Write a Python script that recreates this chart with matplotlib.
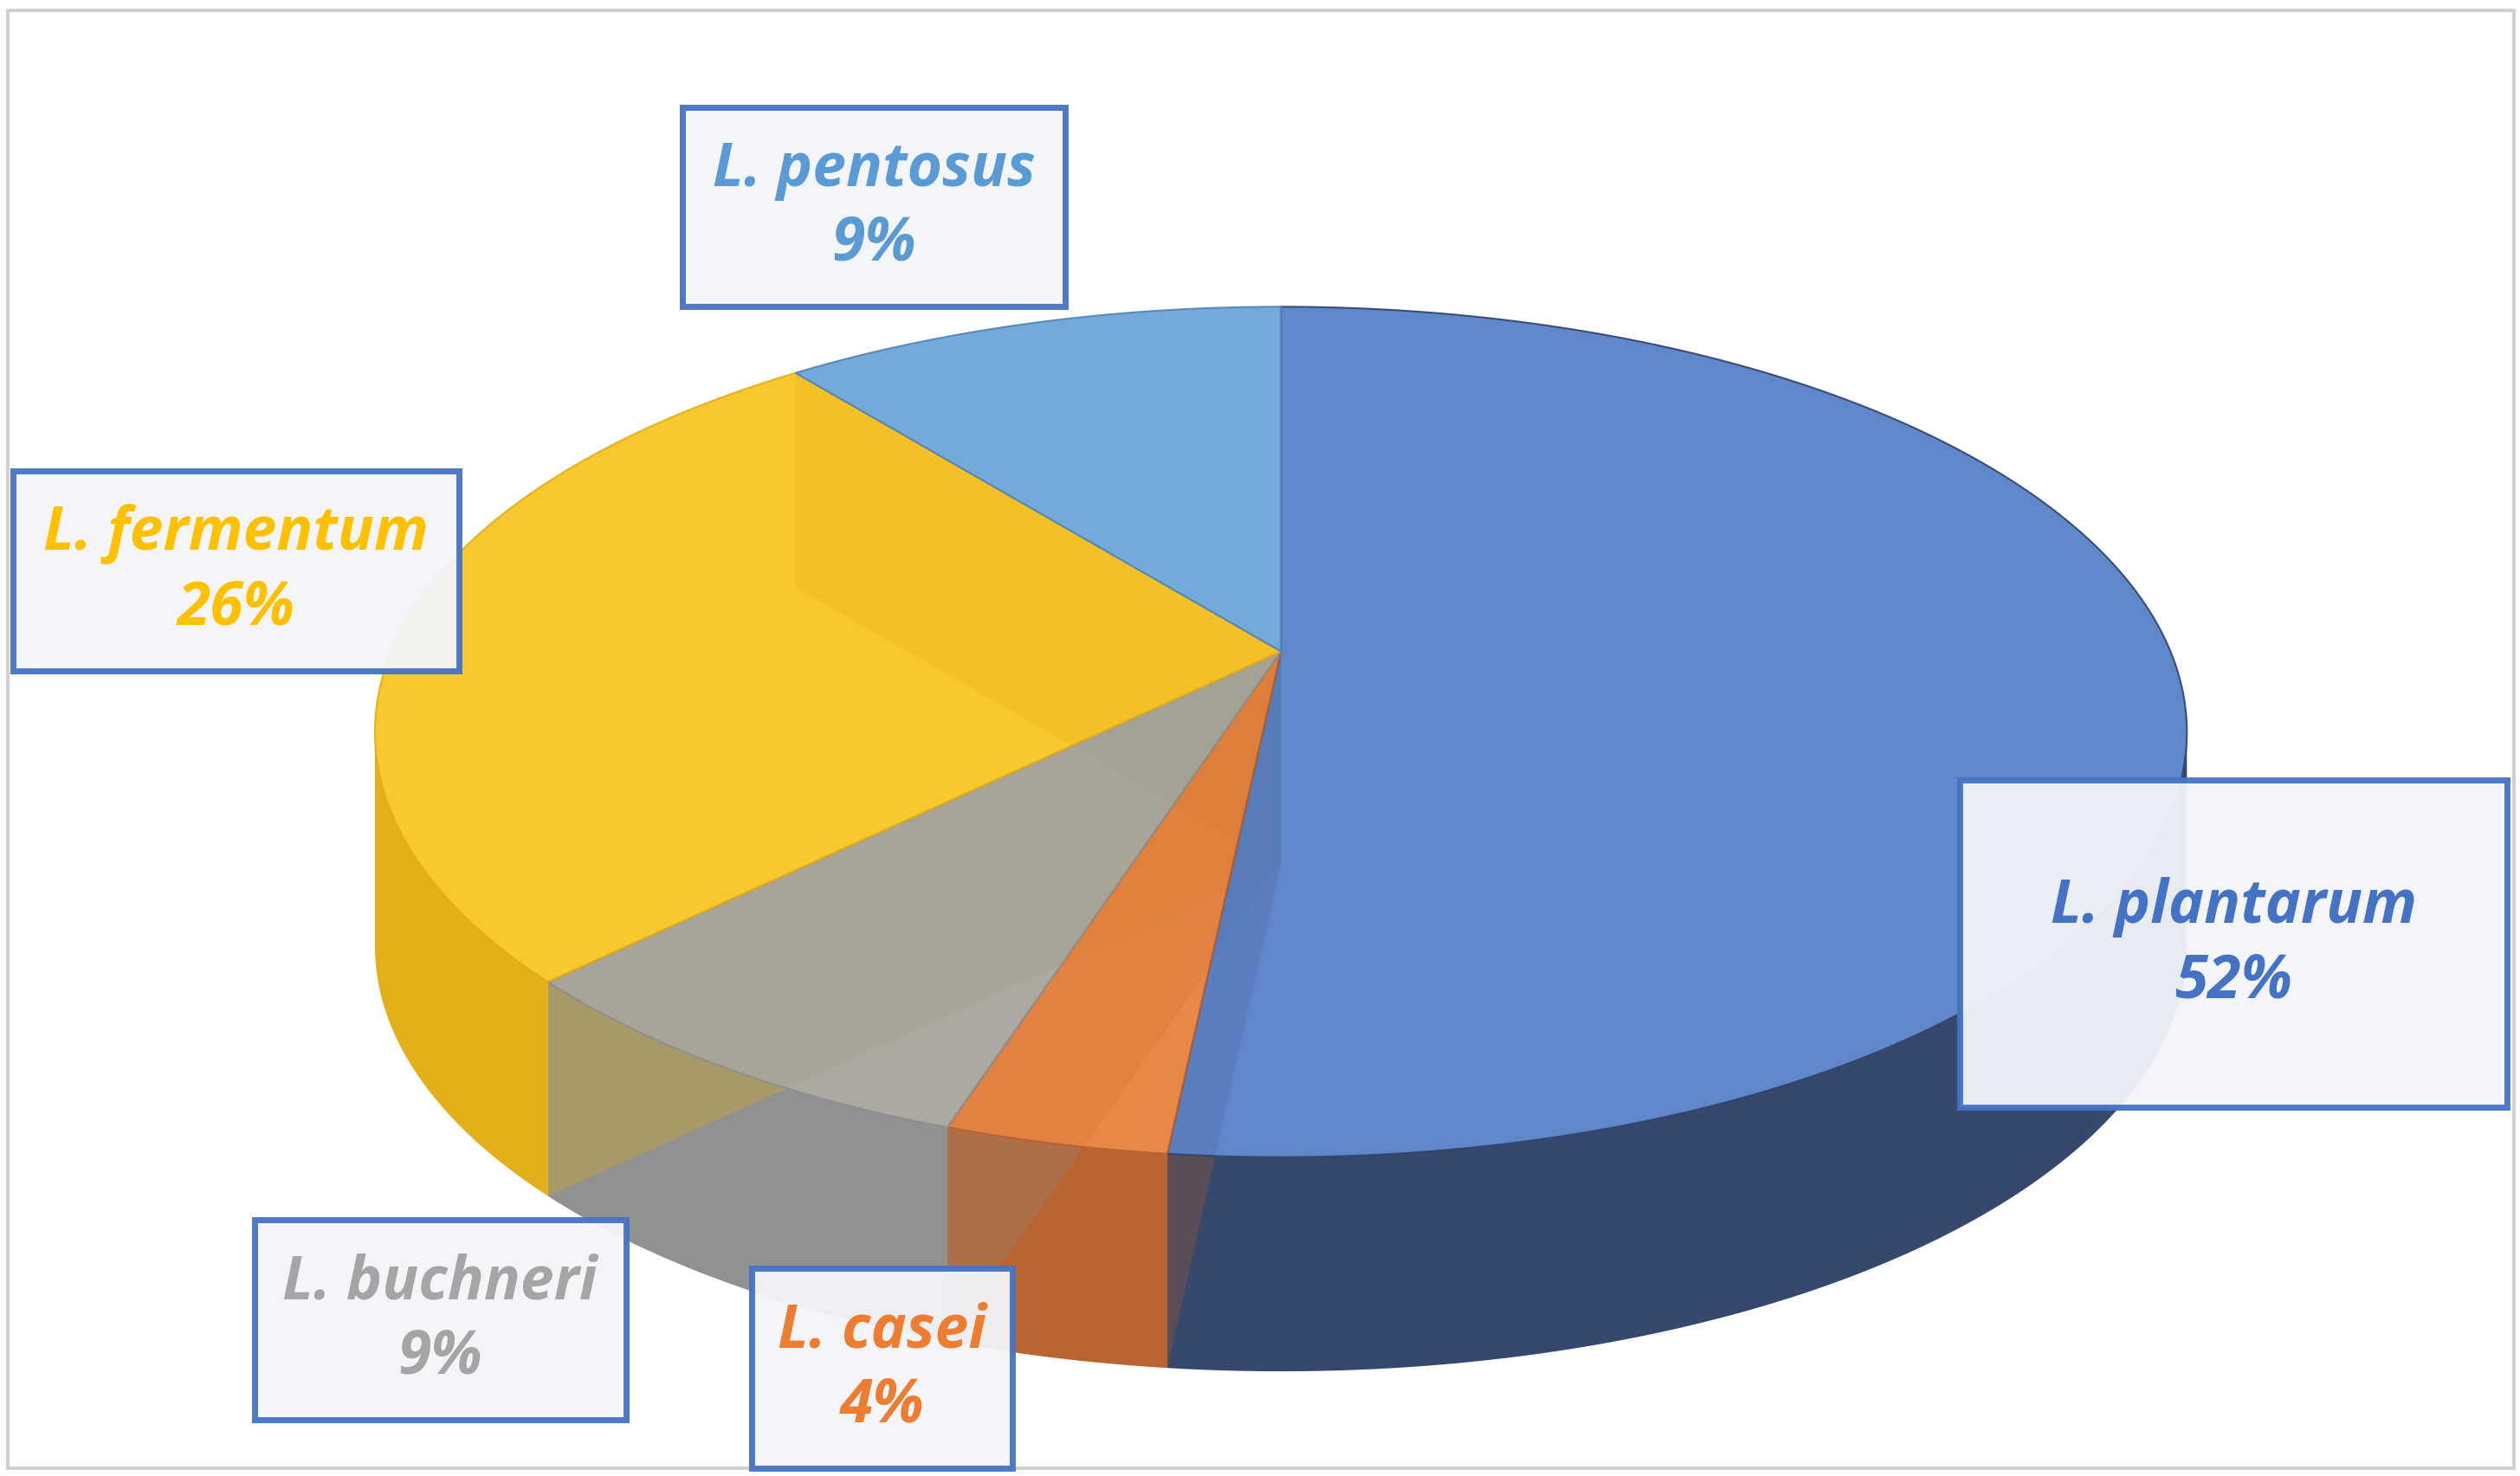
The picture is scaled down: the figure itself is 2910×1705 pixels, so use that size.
import numpy as np
import matplotlib
matplotlib.use("Agg")
import matplotlib.pyplot as plt
from matplotlib.patches import Polygon, Rectangle

labels = ["L. plantarum", "L. casei", "L. buchneri", "L. fermentum", "L. pentosus"]
values = [52, 4, 9, 26, 9]
top_colors = ["#4F7AC4", "#E57B35", "#A3A097", "#F9C117", "#64A1D6"]
side_colors = ["#2F4269", "#B8602A", "#8E8E8E", "#E2AE12", "#4F84B8"]
text_colors = ["#4472C4", "#ED7D31", "#A5A5A5", "#FFC000", "#5B9BD5"]
# label boxes (x0, y0, x1, y1) in reference pixel frame
boxes = [(1218, 485, 1558, 688), (467, 788, 629, 912), (158, 758, 389, 882),
         (8, 293, 285, 417), (424, 67, 662, 191)]

W, H = 1566, 917
fig = plt.figure(figsize=(29.1, 17.06), dpi=100)
ax = fig.add_axes([0, 0, 1, 1])
ax.set_xlim(0, W); ax.set_ylim(H, 0); ax.axis("off")
ax.add_patch(Rectangle((5, 7), 1557, 905, fill=False, ec="#D0D0D0", lw=3))

cx, cy, rx, ry, depth = 796, 455, 563, 264, 133
ax_x, ax_y = 796, 405  # apex (perspective)

def pt(theta, dy=0.0):
    return cx + rx * np.sin(theta), cy - ry * np.cos(theta) + dy

frac = np.array(values) / sum(values)
edges = np.concatenate([[0], np.cumsum(frac)]) * 2 * np.pi

# outer walls (front half only)
for i in range(len(values)):
    a0, a1 = max(edges[i], np.pi / 2), min(edges[i + 1], 1.5 * np.pi)
    if a1 <= a0:
        continue
    t = np.linspace(a0, a1, 200)
    xs, ys = pt(t)
    xb, yb = pt(t[::-1], depth)
    poly = np.column_stack([np.concatenate([xs, xb]), np.concatenate([ys, yb])])
    ax.add_patch(Polygon(poly, closed=True, fc=side_colors[i], ec="none", alpha=0.97, zorder=2))
# radial walls
for i in range(len(values)):
    for a in (edges[i], edges[i + 1]):
        ex, ey = pt(a)
        poly = [(ax_x, ax_y), (ex, ey), (ex, ey + depth), (ax_x, ax_y + depth)]
        ax.add_patch(Polygon(poly, closed=True, fc=side_colors[i], ec="none", alpha=0.3, zorder=3))
# top faces
for i in range(len(values)):
    t = np.linspace(edges[i], edges[i + 1], 200)
    xs, ys = pt(t)
    poly = np.column_stack([np.concatenate([[ax_x], xs]), np.concatenate([[ax_y], ys])])
    ax.add_patch(Polygon(poly, closed=True, fc=top_colors[i], ec=side_colors[i], lw=1.5,
                         alpha=0.9, zorder=4))

# labels
for i, (x0, y0, x1, y1) in enumerate(boxes):
    ax.add_patch(Rectangle((x0, y0), x1 - x0, y1 - y0, fc="#F3F5F9", ec="#4472C4", lw=5,
                           alpha=0.95, zorder=6))
    ax.text((x0 + x1) / 2, (y0 + y1) / 2, f"{labels[i]}\n{values[i]}%", ha="center", va="center",
            fontsize=50, fontweight="bold", fontstyle="italic", family="Open Sans",
            color=text_colors[i], linespacing=1.3, zorder=7)

fig.savefig("out.png", dpi=100)
